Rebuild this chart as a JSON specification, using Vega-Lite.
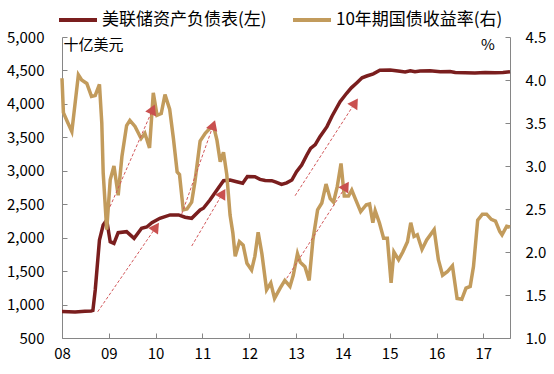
{
  "$schema": "https://vega.github.io/schema/vega-lite/v6.json",
  "width": 448,
  "height": 301,
  "autosize": {"type": "none"},
  "padding": {"left": 62, "top": 37, "right": 44, "bottom": 36},
  "background": "white",
  "config": {
    "view": {"stroke": null},
    "font": "Noto Sans CJK SC",
    "axis": {
      "grid": false,
      "domainColor": "#868686",
      "tickColor": "#868686",
      "tickSize": -5,
      "labelFontSize": 15,
      "labelColor": "#000000",
      "titleColor": "#000000",
      "titleFontWeight": "normal",
      "labelFlush": false,
      "labelOverlap": false
    }
  },
  "datasets": {
    "fed": [
      {"t": 2008.00, "v": 895}, {"t": 2008.28, "v": 890}, {"t": 2008.49, "v": 900}, {"t": 2008.62, "v": 905},
      {"t": 2008.66, "v": 912}, {"t": 2008.71, "v": 1218}, {"t": 2008.80, "v": 1965}, {"t": 2008.88, "v": 2189},
      {"t": 2008.955, "v": 2264}, {"t": 2009.03, "v": 1940}, {"t": 2009.11, "v": 1915}, {"t": 2009.20, "v": 2075},
      {"t": 2009.38, "v": 2090}, {"t": 2009.54, "v": 1990}, {"t": 2009.70, "v": 2140}, {"t": 2009.81, "v": 2160},
      {"t": 2009.92, "v": 2225}, {"t": 2010.09, "v": 2290}, {"t": 2010.31, "v": 2340}, {"t": 2010.49, "v": 2340},
      {"t": 2010.63, "v": 2305}, {"t": 2010.77, "v": 2290}, {"t": 2010.95, "v": 2414}, {"t": 2011.02, "v": 2440},
      {"t": 2011.16, "v": 2563}, {"t": 2011.31, "v": 2713}, {"t": 2011.45, "v": 2852}, {"t": 2011.59, "v": 2862},
      {"t": 2011.73, "v": 2837}, {"t": 2011.86, "v": 2813}, {"t": 2011.96, "v": 2913}, {"t": 2012.12, "v": 2912},
      {"t": 2012.23, "v": 2872}, {"t": 2012.34, "v": 2855}, {"t": 2012.48, "v": 2852}, {"t": 2012.57, "v": 2830},
      {"t": 2012.69, "v": 2797}, {"t": 2012.80, "v": 2820}, {"t": 2012.91, "v": 2862}, {"t": 2013.01, "v": 2987},
      {"t": 2013.12, "v": 3086}, {"t": 2013.23, "v": 3236}, {"t": 2013.31, "v": 3336}, {"t": 2013.41, "v": 3390},
      {"t": 2013.51, "v": 3510}, {"t": 2013.66, "v": 3660}, {"t": 2013.77, "v": 3819}, {"t": 2013.94, "v": 4033},
      {"t": 2014.08, "v": 4159}, {"t": 2014.18, "v": 4240}, {"t": 2014.30, "v": 4317}, {"t": 2014.41, "v": 4390},
      {"t": 2014.51, "v": 4417}, {"t": 2014.65, "v": 4450}, {"t": 2014.79, "v": 4502}, {"t": 2015.01, "v": 4507},
      {"t": 2015.22, "v": 4487}, {"t": 2015.33, "v": 4478}, {"t": 2015.44, "v": 4495}, {"t": 2015.54, "v": 4480},
      {"t": 2015.65, "v": 4490}, {"t": 2015.86, "v": 4495}, {"t": 2016.08, "v": 4480}, {"t": 2016.29, "v": 4485},
      {"t": 2016.40, "v": 4470}, {"t": 2016.61, "v": 4465}, {"t": 2016.82, "v": 4460}, {"t": 2017.04, "v": 4470},
      {"t": 2017.25, "v": 4465}, {"t": 2017.42, "v": 4470}, {"t": 2017.57, "v": 4480}
    ],
    "yld": [
      {"t": 2008.00, "r": 4.02}, {"t": 2008.03, "r": 3.62}, {"t": 2008.11, "r": 3.52}, {"t": 2008.21, "r": 3.40},
      {"t": 2008.35, "r": 4.06}, {"t": 2008.42, "r": 4.00}, {"t": 2008.53, "r": 3.96}, {"t": 2008.63, "r": 3.81},
      {"t": 2008.71, "r": 3.82}, {"t": 2008.80, "r": 3.95}, {"t": 2008.85, "r": 3.50}, {"t": 2008.88, "r": 2.92},
      {"t": 2008.955, "r": 2.26}, {"t": 2009.03, "r": 2.84}, {"t": 2009.11, "r": 3.00}, {"t": 2009.20, "r": 2.66},
      {"t": 2009.28, "r": 3.11}, {"t": 2009.38, "r": 3.47}, {"t": 2009.45, "r": 3.53}, {"t": 2009.56, "r": 3.46},
      {"t": 2009.69, "r": 3.32}, {"t": 2009.77, "r": 3.38}, {"t": 2009.87, "r": 3.21}, {"t": 2009.95, "r": 3.85},
      {"t": 2010.03, "r": 3.59}, {"t": 2010.12, "r": 3.61}, {"t": 2010.20, "r": 3.83}, {"t": 2010.30, "r": 3.66},
      {"t": 2010.38, "r": 3.32}, {"t": 2010.46, "r": 2.93}, {"t": 2010.51, "r": 2.90}, {"t": 2010.59, "r": 2.49},
      {"t": 2010.67, "r": 2.50}, {"t": 2010.77, "r": 2.58}, {"t": 2010.84, "r": 2.82}, {"t": 2010.95, "r": 3.29},
      {"t": 2011.06, "r": 3.38}, {"t": 2011.23, "r": 3.48}, {"t": 2011.31, "r": 3.30}, {"t": 2011.38, "r": 3.05},
      {"t": 2011.45, "r": 3.16}, {"t": 2011.52, "r": 2.90}, {"t": 2011.59, "r": 2.43}, {"t": 2011.65, "r": 2.22},
      {"t": 2011.70, "r": 1.95}, {"t": 2011.79, "r": 2.12}, {"t": 2011.87, "r": 2.08}, {"t": 2011.95, "r": 1.87},
      {"t": 2012.05, "r": 1.79}, {"t": 2012.12, "r": 1.95}, {"t": 2012.19, "r": 2.23}, {"t": 2012.27, "r": 1.98},
      {"t": 2012.37, "r": 1.56}, {"t": 2012.46, "r": 1.64}, {"t": 2012.54, "r": 1.46}, {"t": 2012.66, "r": 1.58},
      {"t": 2012.76, "r": 1.67}, {"t": 2012.87, "r": 1.60}, {"t": 2012.94, "r": 1.73}, {"t": 2013.03, "r": 1.98},
      {"t": 2013.09, "r": 1.88}, {"t": 2013.19, "r": 1.83}, {"t": 2013.28, "r": 1.67}, {"t": 2013.36, "r": 2.14},
      {"t": 2013.46, "r": 2.49}, {"t": 2013.55, "r": 2.57}, {"t": 2013.64, "r": 2.79}, {"t": 2013.73, "r": 2.62},
      {"t": 2013.80, "r": 2.58}, {"t": 2013.88, "r": 2.76}, {"t": 2013.96, "r": 3.03}, {"t": 2014.03, "r": 2.65},
      {"t": 2014.12, "r": 2.65}, {"t": 2014.19, "r": 2.72}, {"t": 2014.28, "r": 2.60}, {"t": 2014.38, "r": 2.47},
      {"t": 2014.50, "r": 2.55}, {"t": 2014.57, "r": 2.56}, {"t": 2014.64, "r": 2.34}, {"t": 2014.69, "r": 2.48},
      {"t": 2014.78, "r": 2.34}, {"t": 2014.87, "r": 2.16}, {"t": 2014.95, "r": 2.16}, {"t": 2015.03, "r": 1.64},
      {"t": 2015.09, "r": 2.00}, {"t": 2015.19, "r": 1.91}, {"t": 2015.28, "r": 2.00}, {"t": 2015.38, "r": 2.12},
      {"t": 2015.45, "r": 2.34}, {"t": 2015.52, "r": 2.18}, {"t": 2015.59, "r": 2.20}, {"t": 2015.69, "r": 2.03},
      {"t": 2015.79, "r": 2.14}, {"t": 2015.95, "r": 2.26}, {"t": 2016.04, "r": 1.91}, {"t": 2016.13, "r": 1.73},
      {"t": 2016.23, "r": 1.77}, {"t": 2016.34, "r": 1.84}, {"t": 2016.44, "r": 1.46}, {"t": 2016.54, "r": 1.45},
      {"t": 2016.63, "r": 1.58}, {"t": 2016.72, "r": 1.60}, {"t": 2016.79, "r": 1.83}, {"t": 2016.88, "r": 2.37},
      {"t": 2016.98, "r": 2.44}, {"t": 2017.07, "r": 2.44}, {"t": 2017.17, "r": 2.38}, {"t": 2017.26, "r": 2.36},
      {"t": 2017.35, "r": 2.24}, {"t": 2017.40, "r": 2.20}, {"t": 2017.50, "r": 2.30}, {"t": 2017.57, "r": 2.29}
    ],
    "arrows": [
      {"id": 1, "t": 2008.763, "v": 893, "end": 0}, {"id": 1, "t": 2010.009, "v": 2159, "end": 1},
      {"id": 2, "t": 2009.026, "v": 2463, "end": 0}, {"id": 2, "t": 2009.938, "v": 3919, "end": 1},
      {"id": 3, "t": 2010.558, "v": 2354, "end": 0}, {"id": 3, "t": 2011.233, "v": 3684, "end": 1},
      {"id": 4, "t": 2010.771, "v": 1875, "end": 0}, {"id": 4, "t": 2011.434, "v": 2663, "end": 1},
      {"id": 5, "t": 2012.979, "v": 2627, "end": 0}, {"id": 5, "t": 2014.261, "v": 4018, "end": 1},
      {"id": 6, "t": 2012.801, "v": 1393, "end": 0}, {"id": 6, "t": 2014.068, "v": 2772, "end": 1}
    ]
  },
  "layer": [
    {
      "data": {"name": "fed"},
      "mark": {"type": "line", "strokeWidth": 3.5},
      "encoding": {
        "x": {
          "field": "t", "type": "quantitative",
          "scale": {"domain": [2008, 2017.57], "nice": false, "zero": false},
          "axis": {
            "values": [2008, 2009, 2010, 2011, 2012, 2013, 2014, 2015, 2016, 2017],
            "format": "d", "labelExpr": "slice(datum.label, 2)",
            "title": null, "labelPadding": 13
          }
        },
        "y": {
          "field": "v", "type": "quantitative",
          "scale": {"domain": [500, 5000], "nice": false, "zero": false},
          "axis": {
            "orient": "left",
            "values": [500, 1000, 1500, 2000, 2500, 3000, 3500, 4000, 4500, 5000],
            "format": ",d", "labelPadding": 23,
            "title": "十亿美元", "titleAngle": 0, "titleX": 1, "titleY": 7,
            "titleAlign": "left", "titleBaseline": "middle", "titleFontSize": 15
          }
        },
        "color": {
          "datum": "美联储资产负债表(左)", "type": "nominal",
          "scale": {"domain": ["美联储资产负债表(左)", "10年期国债收益率(右)"], "range": ["#7A1E1E", "#C29B5C"]},
          "legend": {
            "orient": "none", "legendX": -5, "legendY": -38, "direction": "horizontal",
            "title": null, "symbolType": "stroke", "symbolSize": 1444, "symbolStrokeWidth": 4,
            "labelFontSize": 17, "labelOffset": 3, "columnPadding": 18, "padding": 0,
            "labelColor": "#000000", "labelLimit": 400
          }
        }
      }
    },
    {
      "data": {"name": "yld"},
      "mark": {"type": "line", "strokeWidth": 3.5},
      "encoding": {
        "x": {"field": "t", "type": "quantitative", "scale": {"domain": [2008, 2017.57], "nice": false, "zero": false}},
        "y": {
          "field": "r", "type": "quantitative",
          "scale": {"domain": [1, 4.5], "nice": false, "zero": false},
          "axis": {
            "orient": "right",
            "values": [1, 1.5, 2, 2.5, 3, 3.5, 4, 4.5],
            "format": ".1f", "labelPadding": 20,
            "title": "%", "titleAngle": 0, "titleX": -22.5, "titleY": 7,
            "titleAlign": "center", "titleBaseline": "middle", "titleFontSize": 15
          }
        },
        "color": {"datum": "10年期国债收益率(右)", "type": "nominal"}
      }
    },
    {
      "data": {"name": "arrows"},
      "encoding": {
        "x": {"field": "t", "type": "quantitative", "scale": {"domain": [2008, 2017.57], "nice": false, "zero": false}},
        "y": {"field": "v", "type": "quantitative", "scale": {"domain": [500, 5000], "nice": false, "zero": false}, "axis": null}
      },
      "layer": [
        {
          "mark": {"type": "line", "strokeWidth": 1, "strokeDash": [3, 2], "color": "#D2575A"},
          "encoding": {"detail": {"field": "id", "type": "nominal"}}
        },
        {"transform": [{"filter": "datum.end == 1 && datum.id == 1"}], "mark": {"type": "point", "shape": "triangle-up", "filled": true, "size": 140, "opacity": 1, "color": "#C9504F", "angle": 34.5}},
        {"transform": [{"filter": "datum.end == 1 && datum.id == 2"}], "mark": {"type": "point", "shape": "triangle-up", "filled": true, "size": 140, "opacity": 1, "color": "#C9504F", "angle": 23.7}},
        {"transform": [{"filter": "datum.end == 1 && datum.id == 3"}], "mark": {"type": "point", "shape": "triangle-up", "filled": true, "size": 140, "opacity": 1, "color": "#C9504F", "angle": 19.5}},
        {"transform": [{"filter": "datum.end == 1 && datum.id == 4"}], "mark": {"type": "point", "shape": "triangle-up", "filled": true, "size": 140, "opacity": 1, "color": "#C9504F", "angle": 30.5}},
        {"transform": [{"filter": "datum.end == 1 && datum.id == 5"}], "mark": {"type": "point", "shape": "triangle-up", "filled": true, "size": 140, "opacity": 1, "color": "#C9504F", "angle": 32.8}},
        {"transform": [{"filter": "datum.end == 1 && datum.id == 6"}], "mark": {"type": "point", "shape": "triangle-up", "filled": true, "size": 140, "opacity": 1, "color": "#C9504F", "angle": 32.7}}
      ]
    }
  ],
  "resolve": {"scale": {"y": "independent"}}
}
